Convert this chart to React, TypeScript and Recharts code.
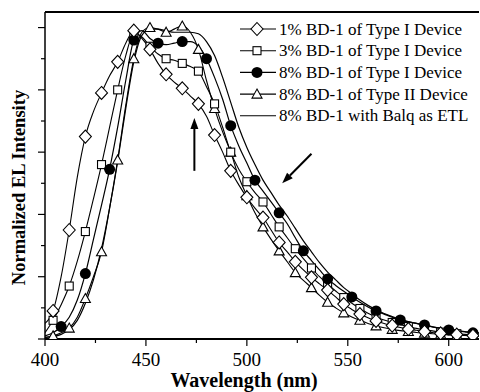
import React from "react"
import { LineChart, Line, XAxis, YAxis, ReferenceLine } from "recharts"

const wavelength = [
  400, 404, 408, 412, 416, 420, 424, 428, 432, 436, 440, 444, 448, 452, 456, 460, 464, 468, 472, 476,
  480, 484, 488, 492, 496, 500, 504, 508, 512, 516, 520, 524, 528, 532, 536, 540, 544, 548, 552, 556,
  560, 564, 568, 572, 576, 580, 584, 588, 592, 596, 600, 604, 608, 612, 616,
]

const bd1Pct = [
  0.05, 0.09, 0.2, 0.35, 0.52, 0.65, 0.73, 0.79, 0.845, 0.89, 0.95, 0.99, 0.965, 0.93, 0.885, 0.85, 0.825, 0.805, 0.78, 0.755,
  0.715, 0.655, 0.6, 0.54, 0.495, 0.455, 0.42, 0.39, 0.35, 0.31, 0.28, 0.248, 0.222, 0.198, 0.177, 0.157, 0.135, 0.112, 0.095, 0.08,
  0.068, 0.058, 0.05, 0.043, 0.037, 0.032, 0.028, 0.024, 0.021, 0.018, 0.016, 0.014, 0.012, 0.011, 0.01,
]

const bd3Pct = [
  0.02, 0.06, 0.11, 0.17, 0.25, 0.345, 0.45, 0.56, 0.68, 0.8, 0.91, 0.98, 0.97, 0.94, 0.915, 0.9, 0.895, 0.885, 0.875, 0.86,
  0.81, 0.755, 0.68, 0.6, 0.545, 0.505, 0.47, 0.44, 0.4, 0.36, 0.325, 0.29, 0.258, 0.228, 0.2, 0.176, 0.154, 0.133, 0.115, 0.098,
  0.083, 0.071, 0.061, 0.053, 0.046, 0.04, 0.034, 0.03, 0.026, 0.022, 0.019, 0.017, 0.015, 0.013, 0.012,
]

const bd8TypeI = [
  0.01, 0.02, 0.04, 0.07, 0.125, 0.21, 0.32, 0.43, 0.545, 0.68, 0.83, 0.96, 0.99, 0.965, 0.95, 0.945, 0.95, 0.955, 0.955, 0.94,
  0.9, 0.84, 0.77, 0.685, 0.62, 0.565, 0.51, 0.475, 0.44, 0.405, 0.37, 0.325, 0.283, 0.252, 0.222, 0.193, 0.172, 0.153, 0.135, 0.118,
  0.103, 0.09, 0.08, 0.07, 0.061, 0.055, 0.05, 0.045, 0.039, 0.034, 0.029, 0.026, 0.023, 0.02, 0.018,
]

const bd8TypeII = [
  0.005, 0.01, 0.02, 0.035, 0.07, 0.13, 0.2, 0.28, 0.42, 0.575, 0.75, 0.9, 0.985, 1.0, 0.995, 0.985, 0.995, 1.005, 0.985, 0.93,
  0.83, 0.74, 0.665, 0.6, 0.52, 0.46, 0.405, 0.36, 0.32, 0.283, 0.248, 0.213, 0.188, 0.165, 0.14, 0.118, 0.1, 0.084, 0.071, 0.06,
  0.05, 0.042, 0.036, 0.031, 0.027, 0.024, 0.021, 0.019, 0.017, 0.015, 0.013, 0.012, 0.011, 0.01, 0.009,
]

const bd8Balq = [
  0.005, 0.008, 0.015, 0.03, 0.06, 0.115, 0.19, 0.29, 0.42, 0.57, 0.74, 0.89, 0.975, 0.995, 0.995, 0.99, 0.985, 0.985, 0.985, 0.98,
  0.955, 0.91, 0.84, 0.76, 0.68, 0.615, 0.56, 0.51, 0.47, 0.43, 0.395, 0.355, 0.315, 0.28, 0.245, 0.215, 0.19, 0.165, 0.145, 0.125,
  0.108, 0.094, 0.082, 0.072, 0.063, 0.056, 0.05, 0.044, 0.039, 0.034, 0.03, 0.027, 0.024, 0.021, 0.019,
]

const xTicks = [400, 425, 450, 475, 500, 525, 550, 575, 600]
const yTicks = [0, 0.1, 0.2, 0.3, 0.4, 0.5, 0.6, 0.7, 0.8, 0.9, 1.0]

const legendLabels = [
  "1% BD-1 of Type I Device",
  "3% BD-1 of Type I Device",
  "8% BD-1 of Type I Device",
  "8% BD-1 of Type II Device",
  "8% BD-1 with Balq as ETL",
]

const data = wavelength.map((nm, i) => ({
  nm,
  a: bd1Pct[i],
  b: bd3Pct[i],
  c: bd8TypeI[i],
  d: bd8TypeII[i],
  e: bd8Balq[i],
}))

const serif = "'Liberation Serif', 'Times New Roman', serif"

type Shape = "diamond" | "square" | "circle" | "triangle" | "none"

function marker(shape: Shape, cx: number, cy: number, key?: any) {
  if (shape === "diamond")
    return <polygon key={key} points={`${cx},${cy - 6.5} ${cx + 6},${cy} ${cx},${cy + 6.5} ${cx - 6},${cy}`} fill="#fff" stroke="#000" strokeWidth={1.1} />
  if (shape === "square")
    return <rect key={key} x={cx - 4} y={cy - 4} width={8} height={8} fill="#fff" stroke="#000" strokeWidth={1.1} />
  if (shape === "circle")
    return <circle key={key} cx={cx} cy={cy} r={5.5} fill="#000" />
  if (shape === "triangle")
    return <polygon key={key} points={`${cx},${cy - 5} ${cx + 5},${cy + 4} ${cx - 5},${cy + 4}`} fill="#fff" stroke="#000" strokeWidth={1.1} />
  return <g key={key} />
}

const makeDot = (shape: Shape, every: number, offset: number) => (props: any) => {
  const { cx, cy, payload, index } = props
  if (payload.nm % every !== offset || cx == null) return <g key={index} />
  return marker(shape, cx, cy, index)
}

const YTick = (props: any) => {
  const { x, y, payload } = props
  const major = Math.round(payload.value * 10) % 2 === 0
  const len = major ? 7 : 4
  return <line x1={x - len} x2={x} y1={y} y2={y} stroke="#000" strokeWidth={1.2} />
}

const XTick = (props: any) => {
  const { x, y, payload } = props
  const major = payload.value % 50 === 0
  return (
    <g>
      <line x1={x} x2={x} y1={y} y2={y + (major ? 7 : 4)} stroke="#000" strokeWidth={1.2} />
      {major && (
        <text x={x} y={y + 27} textAnchor="middle" fontFamily={serif} fontSize={19} fill="#000">
          {payload.value}
        </text>
      )}
    </g>
  )
}

const Arrow = (props: any) => {
  const { x1, y1, x2, y2 } = props
  const ang = Math.atan2(y2 - y1, x2 - x1)
  const L = 11
  const W = 4
  const bx = x2 - L * Math.cos(ang)
  const by = y2 - L * Math.sin(ang)
  const px = -Math.sin(ang) * W
  const py = Math.cos(ang) * W
  return (
    <g>
      <line x1={x1} y1={y1} x2={bx} y2={by} stroke="#000" strokeWidth={2} />
      <polygon points={`${x2},${y2} ${bx + px},${by + py} ${bx - px},${by - py}`} fill="#000" />
    </g>
  )
}

const legendShapes: Shape[] = ["diamond", "square", "circle", "triangle", "none"]

const LegendBox = () => (
  <svg width={242} height={112} style={{ display: "block" }}>
    {legendLabels.map((label, i) => {
      const cy = 10 + i * 21.7
      return (
        <g key={label}>
          <line x1={0} x2={36} y1={cy} y2={cy} stroke="#000" strokeWidth={1.1} />
          {marker(legendShapes[i], 17, cy)}
          <text x={39} y={cy + 5.5} fontFamily={serif} fontSize={17} fill="#000">
            {label}
          </text>
        </g>
      )
    })}
  </svg>
)

export default function App() {
  return (
    <div style={{ position: "absolute", left: 0, top: 0, width: 480, height: 392, background: "#fff" }}>
      <LineChart width={480} height={392} data={data} margin={{ top: 12, right: 1, left: 0, bottom: 0 }}>
        <XAxis
          dataKey="nm"
          type="number"
          domain={[400, 615]}
          ticks={xTicks}
          allowDataOverflow
          height={53}
          tickSize={0}
          tickMargin={0}
          tickLine={false}
          axisLine={{ stroke: "#000", strokeWidth: 2 }}
          tick={<XTick />}
          interval={0}
          label={{
            content: (p: any) => {
              const vb = p.viewBox
              return (
                <text x={vb.x + vb.width / 2 - 18} y={vb.y + 48} textAnchor="middle" fontFamily={serif} fontWeight="bold" fontSize={20} fill="#000">
                  Wavelength (nm)
                </text>
              )
            },
          }}
        />
        <YAxis
          type="number"
          domain={[0, 1.05]}
          ticks={yTicks}
          allowDataOverflow
          width={45}
          tickSize={0}
          tickMargin={0}
          tickLine={false}
          axisLine={{ stroke: "#000", strokeWidth: 1.5 }}
          tick={<YTick />}
          interval={0}
          label={{
            content: (p: any) => {
              const vb = p.viewBox
              const cx = vb.x + 19
              const cy = vb.y + vb.height / 2 + 12
              return (
                <text x={cx} y={cy} transform={`rotate(-90 ${cx} ${cy})`} textAnchor="middle" dominantBaseline="central" fontFamily={serif} fontWeight="bold" fontSize={18.5} fill="#000">
                  Normalized EL Intensity
                </text>
              )
            },
          }}
        />
        <ReferenceLine y={1.05} stroke="#000" strokeWidth={2} ifOverflow="visible" />
        <Line type="monotone" dataKey="e" stroke="#000" strokeWidth={1.2} dot={false} isAnimationActive={false} />
        <Line type="monotone" dataKey="d" stroke="#000" strokeWidth={1.1} dot={makeDot("triangle", 8, 4)} isAnimationActive={false} />
        <Line type="monotone" dataKey="b" stroke="#000" strokeWidth={1.1} dot={makeDot("square", 8, 4)} isAnimationActive={false} />
        <Line type="monotone" dataKey="c" stroke="#000" strokeWidth={1.2} dot={makeDot("circle", 12, 0)} isAnimationActive={false} />
        <Line type="monotone" dataKey="a" stroke="#000" strokeWidth={1.1} dot={makeDot("diamond", 8, 4)} isAnimationActive={false} />
        <ReferenceLine segment={[{ x: 474, y: 0.54 }, { x: 474, y: 0.71 }]} shape={<Arrow />} ifOverflow="visible" />
        <ReferenceLine segment={[{ x: 532, y: 0.595 }, { x: 517.5, y: 0.5 }]} shape={<Arrow />} ifOverflow="visible" />
      </LineChart>
      <div style={{ position: "absolute", left: 240, top: 19 }}>
        <LegendBox />
      </div>
    </div>
  )
}
